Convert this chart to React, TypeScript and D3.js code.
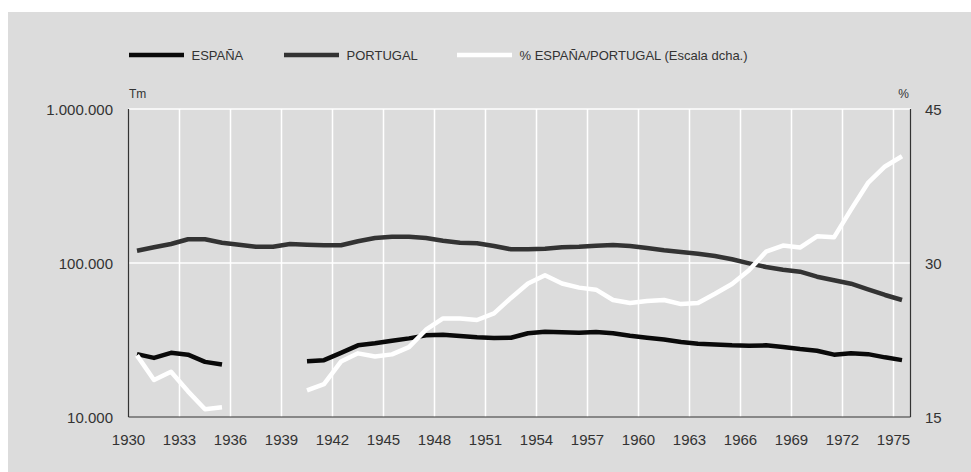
import React from "react";
import * as d3 from "d3";

// Years 1930–1975
const years = [
  1930, 1931, 1932, 1933, 1934, 1935, 1936, 1937, 1938, 1939,
  1940, 1941, 1942, 1943, 1944, 1945, 1946, 1947, 1948, 1949,
  1950, 1951, 1952, 1953, 1954, 1955, 1956, 1957, 1958, 1959,
  1960, 1961, 1962, 1963, 1964, 1965, 1966, 1967, 1968, 1969,
  1970, 1971, 1972, 1973, 1974, 1975,
];

// Tonnes, Spain (no data 1936–1939)
const espana: (number | null)[] = [
  25600, 24200, 26100, 25400, 22800, 21900, null, null, null, null,
  23000, 23400, 26100, 29200, 30100, 31300, 32400, 33900, 34200, 33600,
  32900, 32600, 32700, 35000, 35800, 35500, 35300, 35600, 35000, 33700,
  32700, 31900, 30700, 29900, 29600, 29200, 29000, 29200, 28500, 27600,
  26900, 25400, 25900, 25600, 24400, 23400,
];

// Tonnes, Portugal
const portugal: (number | null)[] = [
  120200, 126500, 132900, 142600, 142600, 135500, 131500, 127600, 127600, 132900,
  131500, 130300, 130300, 138300, 145300, 148200, 148200, 145300, 139600, 135500,
  134200, 129000, 122700, 122700, 123800, 126500, 127600, 129500, 130900, 129000,
  125100, 120900, 117900, 114900, 111000, 105700, 99500, 94200, 90500, 87800,
  81500, 77200, 73400, 67500, 62000, 57500,
];

// Spain as % of Portugal (right-hand scale)
const ratio: (number | null)[] = [
  21.0, 18.6, 19.4, 17.5, 15.75, 15.95, null, null, null, null,
  17.6, 18.2, 20.4, 21.2, 20.9, 21.1, 21.8, 23.5, 24.6, 24.6,
  24.45, 25.1, 26.6, 28.0, 28.8, 28.0, 27.6, 27.4, 26.4, 26.1,
  26.3, 26.4, 26.0, 26.1, 27.0, 27.95, 29.3, 31.1, 31.7, 31.5,
  32.6, 32.5, 35.2, 37.8, 39.4, 40.4,
];

const xTicks = [1930, 1933, 1936, 1939, 1942, 1945, 1948, 1951, 1954, 1957, 1960, 1963, 1966, 1969, 1972, 1975];
const leftTicks = [10000, 100000, 1000000];
const rightTicks = [15, 30, 45];
const legendItems = [
  { label: "ESPAÑA", color: "#0a0a0a" },
  { label: "PORTUGAL", color: "#333333" },
  { label: "% ESPAÑA/PORTUGAL (Escala dcha.)", color: "#ffffff" },
];

const W = 971;
const H = 472;
const left = 128.5;
const right = 910.5;
const top = 109;
const bottom = 417;
const FONT = "'Liberation Sans', Arial, Helvetica, sans-serif";
const TEXT = "#333333";

const fmt = (v: number) => d3.format(",")(v).replace(/,/g, ".");

export default function App() {
  const x = d3.scaleLinear().domain([1930, 1976]).range([left, right]);
  const yL = d3.scaleLog().domain([10000, 1000000]).range([bottom, top]);
  const yR = d3.scaleLinear().domain([15, 45]).range([bottom, top]);

  const mk = (vals: (number | null)[], y: (v: number) => number) =>
    d3
      .line<number>()
      .defined((_, i) => vals[i] != null)
      .x((yr) => x(yr + 0.5))
      .y((_, i) => y(vals[i] as number))(years) || "";

  const legendX = [129, 284, 457];

  return (
    <svg
      width={W}
      height={H}
      style={{ position: "absolute", left: 0, top: 0, display: "block" }}
      fontFamily={FONT}
    >
      <rect x={8} y={12} width={W - 8} height={H - 12} fill="#dcdcdc" />

      {/* legend */}
      {legendItems.map((it, i) => (
        <g key={it.label}>
          <line x1={legendX[i]} x2={legendX[i] + 55} y1={55} y2={55} stroke={it.color} strokeWidth={4.5} />
          <text x={legendX[i] + 62.5} y={59.5} fontSize={13} fill={TEXT}>
            {it.label}
          </text>
        </g>
      ))}

      {/* grid */}
      {xTicks.filter((t) => t > 1930).map((t) => (
        <line key={t} x1={x(t)} x2={x(t)} y1={top} y2={bottom} stroke="#ffffff" strokeWidth={1.5} />
      ))}
      {leftTicks.filter((t) => t > 10000).map((t) => (
        <line key={t} x1={left} x2={right} y1={yL(t)} y2={yL(t)} stroke="#ffffff" strokeWidth={1.5} />
      ))}

      {/* axes */}
      <line x1={left} x2={left} y1={top} y2={bottom} stroke="#333" strokeWidth={1.2} />
      <line x1={right} x2={right} y1={top} y2={bottom} stroke="#333" strokeWidth={1.2} />
      <line x1={left} x2={right} y1={bottom} y2={bottom} stroke="#333" strokeWidth={1.2} />

      {leftTicks.map((t) => (
        <text key={t} x={113} y={yL(t) + 5.5} textAnchor="end" fontSize={15} fill={TEXT}>
          {fmt(t)}
        </text>
      ))}
      {rightTicks.map((t) => (
        <text key={t} x={925} y={yR(t) + 5.5} fontSize={15} fill={TEXT}>
          {t}
        </text>
      ))}
      {xTicks.map((t) => (
        <text key={t} x={x(t)} y={444.5} textAnchor="middle" fontSize={15} fill={TEXT}>
          {t}
        </text>
      ))}
      <text x={129} y={97.5} fontSize={12} fill={TEXT}>Tm</text>
      <text x={909} y={97.5} textAnchor="end" fontSize={12} fill={TEXT}>%</text>

      {/* series */}
      <path d={mk(portugal, yL)} fill="none" stroke="#333333" strokeWidth={4.5} strokeLinejoin="round" />
      <path d={mk(espana, yL)} fill="none" stroke="#0a0a0a" strokeWidth={4.5} strokeLinejoin="round" />
      <path d={mk(ratio, yR)} fill="none" stroke="#ffffff" strokeWidth={4.5} strokeLinejoin="round" />
    </svg>
  );
}
